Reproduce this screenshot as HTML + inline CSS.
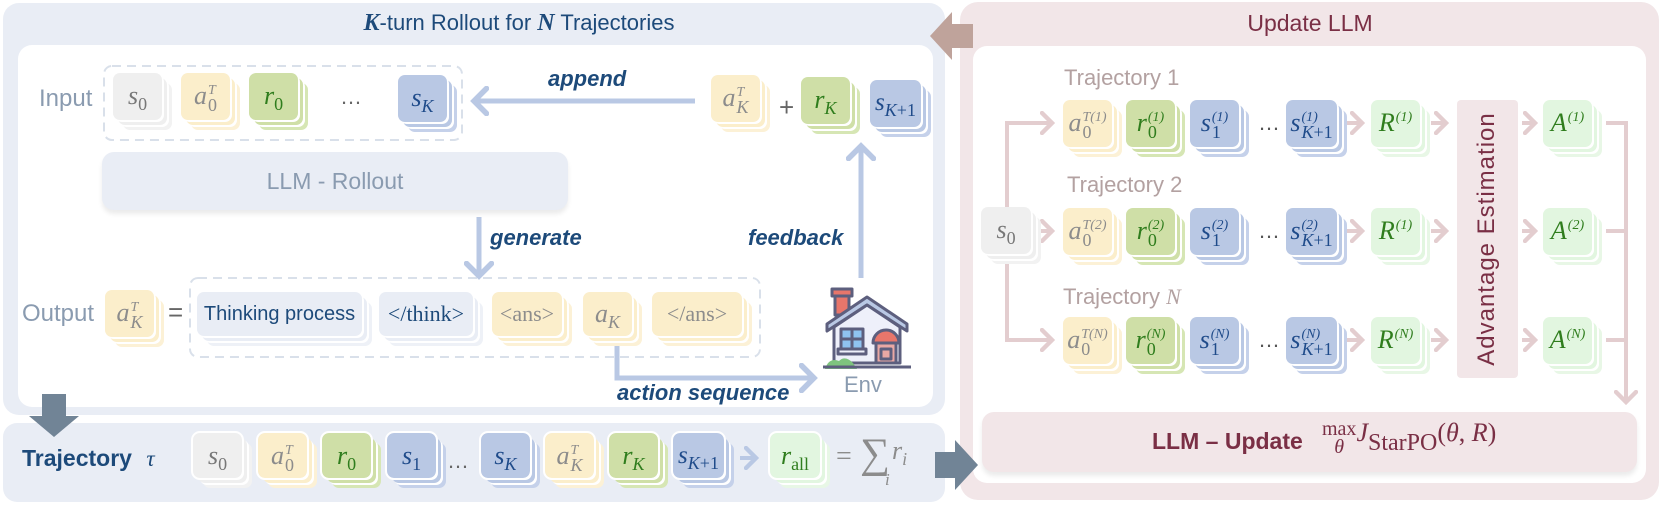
<!DOCTYPE html>
<html><head><meta charset="utf-8"><style>
*{margin:0;padding:0;box-sizing:border-box}
body{width:1661px;height:505px;background:#fff;position:relative;overflow:hidden;font-family:"Liberation Sans",sans-serif}
.a{position:absolute}
.cd{position:absolute;width:49px;height:47px;border-radius:7px;display:block;text-align:center;line-height:46px;white-space:nowrap;font-family:"Liberation Serif",serif;font-style:italic;font-size:26px}
.y{background:#fbeecb;color:#8c8c8c;box-shadow:2px 2px 0 #fff,5px 5px 0 #fbeecb,7px 7px 0 #fff,10px 10px 0 #fcf1d6}
.g{background:#cfdfa7;color:#2f7d1d;box-shadow:2px 2px 0 #fff,5px 5px 0 #cfdfa7,7px 7px 0 #fff,10px 10px 0 #d6e6b4}
.b{background:#b9c8e4;color:#1f4b8a;box-shadow:2px 2px 0 #fff,5px 5px 0 #b9c8e4,7px 7px 0 #fff,10px 10px 0 #c5d1ea}
.w{background:#efefef;color:#777;box-shadow:2px 2px 0 #fff,5px 5px 0 #efefef,7px 7px 0 #fff,10px 10px 0 #f2f2f2}
.lg{background:#e2f6e0;color:#2f7d1d;box-shadow:2px 2px 0 #fff,5px 5px 0 #e2f6e0,7px 7px 0 #fff,10px 10px 0 #e8f7e6}
.bd{outline:2px solid #fff}
sub{font-size:18px;vertical-align:-6px;font-style:normal;line-height:0}
sub i{font-style:italic}
.ss{display:inline-flex;flex-direction:column;font-size:17px;line-height:15px;vertical-align:middle;margin-left:1px;text-align:left}
.ss .u{font-size:14px}
.ss .d{font-style:normal;font-size:18px}
.lbl{font-style:italic;font-weight:bold;color:#1d4a7a;font-size:20px}
.tr{color:#b3a1a1;font-size:22px}
</style></head><body>

<div class="a" style="left:3px;top:3px;width:942px;height:412px;background:#e9edf5;border-radius:16px"></div>
<div class="a" style="left:18px;top:45px;width:915px;height:362px;background:#fff;border-radius:14px"></div>
<div class="a" style="left:3px;top:423px;width:942px;height:79px;background:#e9edf5;border-radius:14px"></div>
<div class="a" style="left:960px;top:2px;width:699px;height:498px;background:#f2e6e8;border-radius:18px"></div>
<div class="a" style="left:973px;top:46px;width:673px;height:437px;background:#fff;border-radius:14px"></div>

<div class="a" style="left:329px;top:10px;width:380px;text-align:center;font-size:22px;color:#1d4a7a;white-space:nowrap"><b style="font-family:'Liberation Serif',serif;font-style:italic;font-size:24px">K</b>-turn Rollout for <b style="font-family:'Liberation Serif',serif;font-style:italic;font-size:24px">N</b> Trajectories</div>
<div class="a" style="left:1210px;top:10px;width:200px;text-align:center;font-size:23px;color:#7a2f45">Update LLM</div>

<svg class="a" style="left:0;top:0" width="1661" height="505">
<defs>
<marker id="bh" markerWidth="6" markerHeight="6" refX="3" refY="3" orient="auto" markerUnits="strokeWidth"><path d="M0.5,0.5 L3,3 L0.5,5.5" fill="none" stroke="#b9c8e4" stroke-width="1.1" stroke-linecap="round"/></marker>
<marker id="ph" markerWidth="6" markerHeight="6" refX="3" refY="3" orient="auto" markerUnits="strokeWidth"><path d="M0.5,0.5 L3,3 L0.5,5.5" fill="none" stroke="#e3cdcf" stroke-width="1.1" stroke-linecap="round"/></marker>
</defs>
<polygon points="930,36 952,12 952,24 973,24 973,48 952,48 952,60" fill="#bfa39b"/>
<polygon points="935,452 955,452 955,440 978,465 955,490 955,478 935,478" fill="#718496"/>
<polygon points="42,394 66,394 66,416 79,416 54,437 29,416 42,416" fill="#718496"/>
<rect x="104" y="66" width="358" height="74" rx="8" fill="none" stroke="#d9e0ea" stroke-width="2" stroke-dasharray="9,6"/>
<rect x="190" y="278" width="570" height="79" rx="8" fill="none" stroke="#d9e0ea" stroke-width="2" stroke-dasharray="9,6"/>
<line x1="695" y1="101" x2="474" y2="101" stroke="#b9c8e4" stroke-width="5" marker-end="url(#bh)"/>
<line x1="479" y1="217" x2="479" y2="276" stroke="#b9c8e4" stroke-width="5" marker-end="url(#bh)"/>
<line x1="861" y1="278" x2="861" y2="146" stroke="#b9c8e4" stroke-width="5" marker-end="url(#bh)"/>
<polyline points="617,340 617,378 814,378" fill="none" stroke="#b9c8e4" stroke-width="5" marker-end="url(#bh)"/>
<line x1="740" y1="458" x2="756" y2="458" stroke="#b9c8e4" stroke-width="4" marker-end="url(#bh)"/>
<polyline points="1007,207 1007,123 1052,123" fill="none" stroke="#e3cdcf" stroke-width="4" marker-end="url(#ph)"/>
<polyline points="1007,254 1007,340 1052,340" fill="none" stroke="#e3cdcf" stroke-width="4" marker-end="url(#ph)"/>
<line x1="1036" y1="231" x2="1052" y2="231" stroke="#e3cdcf" stroke-width="4" marker-end="url(#ph)"/>
<g stroke="#e3cdcf" stroke-width="4">
<line x1="1347" y1="123" x2="1362" y2="123" marker-end="url(#ph)"/>
<line x1="1347" y1="231" x2="1362" y2="231" marker-end="url(#ph)"/>
<line x1="1347" y1="340" x2="1362" y2="340" marker-end="url(#ph)"/>
<line x1="1431" y1="123" x2="1446" y2="123" marker-end="url(#ph)"/>
<line x1="1431" y1="231" x2="1446" y2="231" marker-end="url(#ph)"/>
<line x1="1431" y1="340" x2="1446" y2="340" marker-end="url(#ph)"/>
<line x1="1522" y1="123" x2="1535" y2="123" marker-end="url(#ph)"/>
<line x1="1522" y1="231" x2="1535" y2="231" marker-end="url(#ph)"/>
<line x1="1522" y1="340" x2="1535" y2="340" marker-end="url(#ph)"/>
<line x1="1606" y1="231" x2="1626" y2="231"/>
<line x1="1606" y1="340" x2="1626" y2="340"/>
</g>
<polyline points="1606,123 1626,123 1626,402" fill="none" stroke="#e3cdcf" stroke-width="4" marker-end="url(#ph)"/>
<g transform="translate(823,287)" stroke="#5d5f7e" stroke-width="3" stroke-linejoin="round">
<rect x="12" y="6" width="14" height="22" fill="#e8766b"/>
<rect x="9" y="2" width="20" height="7" fill="#e8766b"/>
<polygon points="4,37 44,10 84,37 84,44 44,18 4,44" fill="#b9c8e4"/>
<polygon points="11,40 44,18 77,40 77,76 11,76" fill="#eef0fa"/>
<rect x="18" y="42" width="22" height="20" fill="#8fc3f0"/>
<line x1="29" y1="42" x2="29" y2="62"/><line x1="18" y1="52" x2="40" y2="52"/>
<rect x="15" y="62" width="28" height="5" fill="#eef0fa"/>
<path d="M50,56 a13,13 0 0 1 26,0 z" fill="#e8766b"/>
<rect x="53" y="56" width="20" height="20" fill="#e9a8a4"/>
<rect x="58" y="62" width="10" height="10" fill="#e9a8a4"/>
<path d="M2,82 q4,-12 14,-8 q6,-6 14,2 l4,6 z" fill="#7ec47e" stroke="none"/>
<line x1="0" y1="80" x2="88" y2="80"/>
</g>
</svg>

<div class="a" style="left:39px;top:85px;font-size:24px;color:#8a9bb0">Input</div>
<div class="cd w" style="left:113px;top:73px">s<sub>0</sub></div>
<div class="cd y" style="left:181px;top:73px">a<span class="ss"><span class="u">T</span><span class="d">0</span></span></div>
<div class="cd g" style="left:249px;top:73px">r<sub>0</sub></div>
<div class="a" style="left:340px;top:84px;font-size:22px;color:#666">…</div>
<div class="cd b" style="left:398px;top:75px">s<sub><i>K</i></sub></div>
<div class="a lbl" style="left:548px;top:66px;font-size:22px">append</div>
<div class="cd y" style="left:711px;top:75px">a<span class="ss"><span class="u">T</span><span class="d"><i>K</i></span></span></div>
<div class="a" style="left:779px;top:92px;font-size:26px;color:#666">+</div>
<div class="cd g" style="left:801px;top:77px">r<sub><i>K</i></sub></div>
<div class="cd b" style="left:870px;top:80px;width:51px;font-size:25px">s<sub><i>K</i>+1</sub></div>

<div class="a" style="left:102px;top:152px;width:466px;height:58px;background:#e9edf5;border-radius:12px;box-shadow:0 4px 5px rgba(0,0,0,0.08);text-align:center;line-height:58px;font-size:23px;color:#8a9bb0">LLM - Rollout</div>
<div class="a lbl" style="left:490px;top:225px;font-size:22px">generate</div>
<div class="a lbl" style="left:748px;top:225px;font-size:22px">feedback</div>

<div class="a" style="left:22px;top:300px;font-size:24px;color:#8a9bb0">Output</div>
<div class="cd y" style="left:105px;top:290px">a<span class="ss"><span class="u">T</span><span class="d"><i>K</i></span></span></div>
<div class="a" style="left:168px;top:297px;font-size:26px;color:#666">=</div>
<div class="cd" style="left:197px;top:292px;width:165px;height:44px;line-height:44px;background:#e9edf5;box-shadow:2px 2px 0 #fff,5px 5px 0 #e9edf5,7px 7px 0 #fff,10px 10px 0 #eef1f7;font-family:'Liberation Sans',sans-serif;font-style:normal;font-size:20px;color:#1d4a7a">Thinking process</div>
<div class="cd" style="left:379px;top:292px;width:94px;height:44px;line-height:44px;background:#e9edf5;box-shadow:2px 2px 0 #fff,5px 5px 0 #e9edf5,7px 7px 0 #fff,10px 10px 0 #eef1f7;font-style:normal;font-size:22px;color:#1d4a7a">&lt;/think&gt;</div>
<div class="cd y" style="left:492px;top:292px;width:70px;height:44px;line-height:44px;font-style:normal;font-size:22px">&lt;ans&gt;</div>
<div class="cd y" style="left:583px;top:292px;height:44px;line-height:44px">a<sub><i>K</i></sub></div>
<div class="cd y" style="left:652px;top:292px;width:90px;height:44px;line-height:44px;font-style:normal;font-size:22px">&lt;/ans&gt;</div>
<div class="a lbl" style="left:617px;top:380px;font-size:22px">action sequence</div>
<div class="a" style="left:844px;top:372px;font-size:22px;color:#8a9bb0">Env</div>

<div class="a" style="left:22px;top:445px;font-size:23px;font-weight:bold;color:#1d4a7a">Trajectory <span style="font-family:'Liberation Serif',serif;font-style:italic;font-weight:normal;margin-left:8px">τ</span></div>
<div class="cd w bd" style="left:193px;top:433px;height:45px">s<sub>0</sub></div>
<div class="cd y bd" style="left:258px;top:433px;height:45px">a<span class="ss"><span class="u">T</span><span class="d">0</span></span></div>
<div class="cd g bd" style="left:322px;top:433px;height:45px">r<sub>0</sub></div>
<div class="cd b bd" style="left:387px;top:433px;height:45px">s<sub>1</sub></div>
<div class="a" style="left:447px;top:448px;font-size:22px;color:#666">…</div>
<div class="cd b bd" style="left:481px;top:433px;height:45px">s<sub><i>K</i></sub></div>
<div class="cd y bd" style="left:545px;top:433px;height:45px">a<span class="ss"><span class="u">T</span><span class="d"><i>K</i></span></span></div>
<div class="cd g bd" style="left:609px;top:433px;height:45px">r<sub><i>K</i></sub></div>
<div class="cd b bd" style="left:673px;top:433px;width:51px;height:45px;font-size:25px">s<sub><i>K</i>+1</sub></div>
<div class="cd lg bd" style="left:770px;top:433px;width:50px;height:45px">r<sub>all</sub></div>
<div class="a" style="left:836px;top:441px;font-size:28px;color:#8c8c8c;font-family:'Liberation Serif',serif">=</div>
<div class="a" style="left:860px;top:430px;font-size:42px;color:#8c8c8c;font-family:'Liberation Serif',serif">∑</div>
<div class="a" style="left:885px;top:470px;font-size:17px;color:#8c8c8c;font-family:'Liberation Serif',serif;font-style:italic">i</div>
<div class="a" style="left:892px;top:436px;font-size:26px;color:#8c8c8c;font-family:'Liberation Serif',serif;font-style:italic">r<sub style="font-style:italic">i</sub></div>

<div class="a tr" style="left:1064px;top:65px">Trajectory 1</div>
<div class="a tr" style="left:1067px;top:172px">Trajectory 2</div>
<div class="a tr" style="left:1063px;top:284px">Trajectory <i style="font-family:'Liberation Serif',serif">N</i></div>
<div class="cd w" style="left:981px;top:207px;width:50px">s<sub>0</sub></div>

<div class="cd y" style="left:1063px;top:100px">a<span class="ss"><span class="u">T(1)</span><span class="d">0</span></span></div>
<div class="cd g" style="left:1126px;top:100px">r<span class="ss"><span class="u">(1)</span><span class="d">0</span></span></div>
<div class="cd b" style="left:1190px;top:100px">s<span class="ss"><span class="u">(1)</span><span class="d">1</span></span></div>
<div class="a" style="left:1258px;top:110px;font-size:22px;color:#555">…</div>
<div class="cd b" style="left:1286px;top:100px;width:51px">s<span class="ss"><span class="u">(1)</span><span class="d"><i>K</i>+1</span></span></div>
<div class="cd lg" style="left:1371px;top:100px">R<span class="ss"><span class="u">(1)</span><span class="d">&nbsp;</span></span></div>
<div class="cd lg" style="left:1543px;top:100px">A<span class="ss"><span class="u">(1)</span><span class="d">&nbsp;</span></span></div>

<div class="cd y" style="left:1063px;top:208px">a<span class="ss"><span class="u">T(2)</span><span class="d">0</span></span></div>
<div class="cd g" style="left:1126px;top:208px">r<span class="ss"><span class="u">(2)</span><span class="d">0</span></span></div>
<div class="cd b" style="left:1190px;top:208px">s<span class="ss"><span class="u">(2)</span><span class="d">1</span></span></div>
<div class="a" style="left:1258px;top:218px;font-size:22px;color:#555">…</div>
<div class="cd b" style="left:1286px;top:208px;width:51px">s<span class="ss"><span class="u">(2)</span><span class="d"><i>K</i>+1</span></span></div>
<div class="cd lg" style="left:1371px;top:208px">R<span class="ss"><span class="u">(1)</span><span class="d">&nbsp;</span></span></div>
<div class="cd lg" style="left:1543px;top:208px">A<span class="ss"><span class="u">(2)</span><span class="d">&nbsp;</span></span></div>

<div class="cd y" style="left:1063px;top:317px">a<span class="ss"><span class="u">T(N)</span><span class="d">0</span></span></div>
<div class="cd g" style="left:1126px;top:317px">r<span class="ss"><span class="u">(N)</span><span class="d">0</span></span></div>
<div class="cd b" style="left:1190px;top:317px">s<span class="ss"><span class="u">(N)</span><span class="d">1</span></span></div>
<div class="a" style="left:1258px;top:327px;font-size:22px;color:#555">…</div>
<div class="cd b" style="left:1286px;top:317px;width:51px">s<span class="ss"><span class="u">(N)</span><span class="d"><i>K</i>+1</span></span></div>
<div class="cd lg" style="left:1371px;top:317px">R<span class="ss"><span class="u">(N)</span><span class="d">&nbsp;</span></span></div>
<div class="cd lg" style="left:1543px;top:317px">A<span class="ss"><span class="u">(N)</span><span class="d">&nbsp;</span></span></div>

<div class="a" style="left:1457px;top:100px;width:61px;height:278px;background:#f2e6e8;border-radius:4px"></div>
<div class="a" style="left:1487px;top:239px;width:280px;margin-left:-140px;margin-top:-14px;text-align:center;font-size:24px;color:#7a2f45;transform:rotate(-90deg);white-space:nowrap;letter-spacing:1px">Advantage Estimation</div>

<div class="a" style="left:982px;top:412px;width:655px;height:60px;background:#f2e6e8;border-radius:12px;box-shadow:0 4px 5px rgba(0,0,0,0.08)"></div>
<div class="a" style="left:1152px;top:428px;font-size:23px;font-weight:bold;color:#7a2f45;white-space:nowrap">LLM – Update</div>
<div class="a" style="left:1322px;top:420px;font-family:'Liberation Serif',serif;color:#7a2f45;white-space:nowrap">
<span style="display:inline-flex;flex-direction:column;align-items:center;font-size:20px;line-height:18px;vertical-align:top"><span>max</span><i>θ</i></span><i style="font-size:26px;vertical-align:top;line-height:26px">J</i><span style="font-size:24px;position:relative;top:10px">StarPO</span><span style="font-size:26px;vertical-align:top;line-height:26px">(<i>θ</i>, <i>R</i>)</span>
</div>
</body></html>
